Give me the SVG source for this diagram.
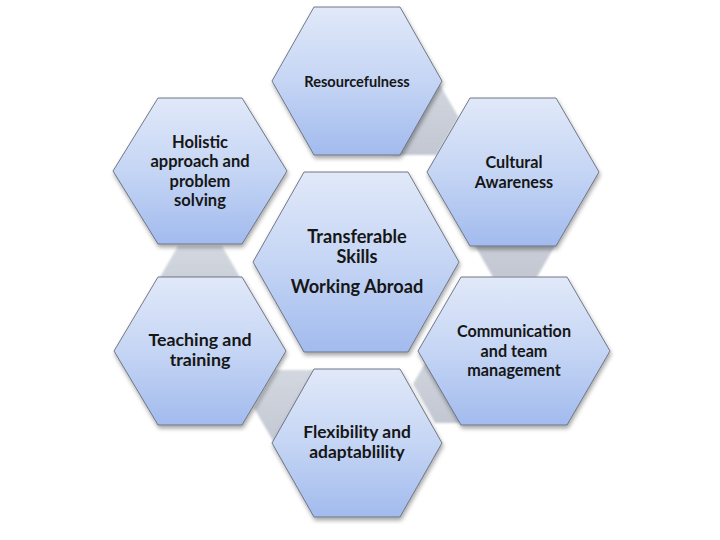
<svg xmlns="http://www.w3.org/2000/svg" width="720" height="540" viewBox="0 0 720 540">
  <defs>
    <linearGradient id="hexFill" x1="0" y1="0" x2="0" y2="1">
      <stop offset="0" stop-color="#e1e9f9"/>
      <stop offset="0.5" stop-color="#c5d5f4"/>
      <stop offset="1" stop-color="#a2bbee"/>
    </linearGradient>
    <linearGradient id="grayFill" x1="0" y1="0" x2="0" y2="1">
      <stop offset="0" stop-color="#d3d7df"/>
      <stop offset="1" stop-color="#c2c7d2"/>
    </linearGradient>
    <filter id="shadow" x="-20%" y="-20%" width="140%" height="140%">
      <feDropShadow dx="1" dy="3" stdDeviation="2.2" flood-color="#000" flood-opacity="0.35"/>
    </filter>
    <filter id="soft" x="-20%" y="-20%" width="140%" height="140%">
      <feGaussianBlur stdDeviation="0.8"/>
    </filter>
  </defs>
  <style>
    .hex { fill: url(#hexFill); stroke: #646c7c; stroke-width: 0.9; filter: url(#shadow); }
    .conn { fill: url(#grayFill); stroke: none; filter: url(#soft); }
    text { font-family: Lato, "Open Sans", "Liberation Sans", sans-serif; font-weight: bold; fill: #161616; text-anchor: middle; }
    .s-res { font-size: 14.6px; }
    .s-hol { font-size: 16.5px; }
    .s-cul { font-size: 16.2px; }
    .s-cen { font-size: 18.2px; }
    .s-com { font-size: 16.2px; }
    .s-tea { font-size: 17.8px; }
    .s-fle { font-size: 17.4px; }
  </style>
  <rect width="720" height="540" fill="#ffffff"/>

  <g id="connectors">
    <polygon class="conn" points="392.5,79 436.5,79 458.5,117 436.5,155 392.5,155 370.5,117"/>
    <polygon class="conn" points="493,201 537,201 559,239 537,277 493,277 471,239"/>
    <polygon class="conn" points="435,346 479,346 501,384 479,423 435,423 413,384"/>
    <polygon class="conn" points="276,370 320,370 342,408 320,446 276,446 254,408"/>
    <polygon class="conn" points="178,246 222,246 244,284 222,322 178,322 156,284"/>
  </g>

  <g id="node-resourcefulness">
    <polygon class="hex" points="314,7 400,7 442,81 400,155 314,155 272,81"/>
    <text class="s-res" x="357" y="87">Resourcefulness</text>
  </g>

  <g id="node-holistic">
    <polygon class="hex" points="158,98 242,98 287,171 242,244 158,244 113,171"/>
    <text class="s-hol" x="200" y="148">Holistic</text>
    <text class="s-hol" x="200" y="167">approach and</text>
    <text class="s-hol" x="200" y="187">problem</text>
    <text class="s-hol" x="200" y="206">solving</text>
  </g>

  <g id="node-cultural">
    <polygon class="hex" points="470,98 556,98 599,172 556,246 470,246 427,172"/>
    <text class="s-cul" x="514" y="168">Cultural</text>
    <text class="s-cul" x="514" y="188">Awareness</text>
  </g>

  <g id="node-center">
    <polygon class="hex" points="304,172 408,172 459,262 408,352 304,352 253,262"/>
    <text class="s-cen" x="357" y="243">Transferable</text>
    <text class="s-cen" x="357" y="263">Skills</text>
    <text class="s-cen" x="357" y="293">Working Abroad</text>
  </g>

  <g id="node-communication">
    <polygon class="hex" points="461,277 567,277 610,351 567,425 461,425 418,351"/>
    <text class="s-com" x="514" y="337">Communication</text>
    <text class="s-com" x="514" y="357">and team</text>
    <text class="s-com" x="514" y="376">management</text>
  </g>

  <g id="node-teaching">
    <polygon class="hex" points="158,277 242,277 286,351 242,425 158,425 114,351"/>
    <text class="s-tea" x="200" y="346">Teaching and</text>
    <text class="s-tea" x="200" y="366">training</text>
  </g>

  <g id="node-flexibility">
    <polygon class="hex" points="314,369 400,369 442,443 400,517 314,517 272,443"/>
    <text class="s-fle" x="357" y="438">Flexibility and</text>
    <text class="s-fle" x="357" y="458">adaptablility</text>
  </g>
</svg>
